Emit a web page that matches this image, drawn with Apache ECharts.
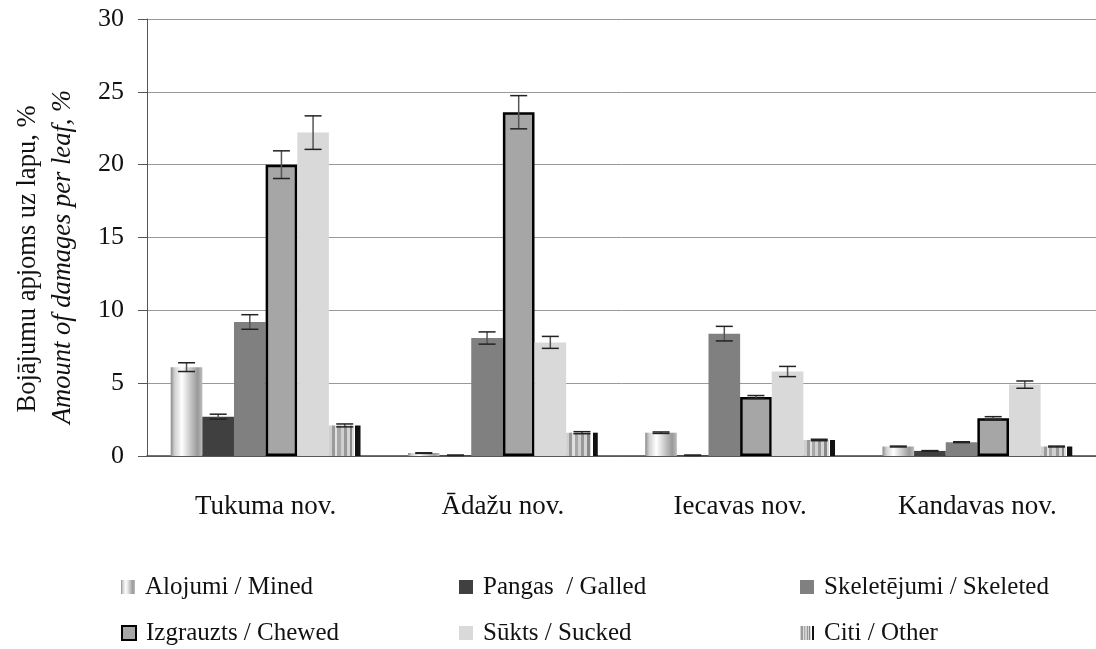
<!DOCTYPE html>
<html>
<head>
<meta charset="utf-8">
<script src="https://cdn.jsdelivr.net/npm/echarts@6/dist/echarts.min.js"></script>
<style>html,body{margin:0;padding:0;background:#fff}#c{width:1096px;height:649px}</style>
</head>
<body>
<div id="c"></div>
<script>
const categories = ['Tukuma nov.', 'Ādažu nov.', 'Iecavas nov.', 'Kandavas nov.'];
const seriesNames = ['Alojumi / Mined', 'Pangas  / Galled', 'Skeletējumi / Skeleted', 'Izgrauzts / Chewed', 'Sūkts / Sucked', 'Citi / Other'];
const alojumi = [6.1, 0.2, 1.6, 0.65];
const pangas = [2.7, 0.05, 0.05, 0.35];
const skeletejumi = [9.2, 8.1, 8.4, 0.95];
const izgrauzts = [20.0, 23.6, 4.05, 2.6];
const sukts = [22.2, 7.8, 5.8, 4.9];
const citi = [2.1, 1.6, 1.1, 0.65];
const errAlojumi = [0.3, 0.02, 0.05, 0.03];
const errPangas = [0.17, 0.01, 0.01, 0.02];
const errSkeletejumi = [0.5, 0.42, 0.5, 0.03];
const errIzgrauzts = [0.95, 1.14, 0.1, 0.1];
const errSukts = [1.15, 0.41, 0.35, 0.25];
const errCiti = [0.1, 0.07, 0.05, 0.03];
const yTicks = [0, 5, 10, 15, 20, 25, 30];

const values = [alojumi, pangas, skeletejumi, izgrauzts, sukts, citi];
const errors = [errAlojumi, errPangas, errSkeletejumi, errIzgrauzts, errSukts, errCiti];

const FONT = 'Liberation Serif';

function stops(list) {
  const out = [];
  list.forEach(s => { out.push({offset: s[0], color: s[2]}); out.push({offset: s[1], color: s[2]}); });
  return out;
}
const alojumiFill = {
  type: 'linear', x: 0, y: 0, x2: 1, y2: 0,
  colorStops: [
    {offset: 0, color: '#8a8a8a'}, {offset: 0.12, color: '#cfcfcf'},
    {offset: 0.35, color: '#ffffff'}, {offset: 0.6, color: '#cccccc'},
    {offset: 0.85, color: '#999999'}, {offset: 1, color: '#bdbdbd'}
  ]
};
const citiFill = {
  type: 'linear', x: 0, y: 0, x2: 1, y2: 0,
  colorStops: stops([
    [0, 0.1, '#cfcfcf'], [0.1, 0.2, '#9a9a9a'], [0.2, 0.27, '#e0e0e0'],
    [0.27, 0.37, '#a8a8a8'], [0.37, 0.47, '#d0d0d0'], [0.47, 0.57, '#999999'],
    [0.57, 0.66, '#d4d4d4'], [0.66, 0.74, '#888888'], [0.74, 0.8, '#dcdcdc'],
    [0.8, 0.84, '#ffffff'], [0.84, 1, '#111111']
  ])
};
const styles = [
  {color: alojumiFill},
  {color: '#404040'},
  {color: '#808080'},
  {color: '#a6a6a6', borderColor: '#000', borderWidth: 2.5},
  {color: '#d9d9d9'},
  {color: citiFill}
];

const barSeries = seriesNames.map((n, i) => ({
  name: n, type: 'bar', data: values[i],
  barGap: '0%', barCategoryGap: '20%',
  itemStyle: styles[i],
  emphasis: {disabled: true},
  z: 2
}));

const errData = [];
errors.forEach((arr, s) => arr.forEach((e, c) => errData.push([c, values[s][c], e, s])));

const errSeries = {
  type: 'custom', name: 'err', data: errData, z: 5, silent: true,
  renderItem: function (params, api) {
    const c = api.value(0), v = api.value(1), e = api.value(2), s = api.value(3);
    const band = api.size([1, 0])[0];
    const bw = band * 0.8 / 6;
    const x = api.coord([c, v])[0] + (s - 2.5) * bw;
    const yt = api.coord([c, v + e])[1];
    const yb = api.coord([c, v - e])[1];
    const hw = 8.5;
    return {
      type: 'group',
      children: [
        {type: 'line', shape: {x1: x, y1: yt, x2: x, y2: yb}, style: {stroke: '#555', lineWidth: 1.5}},
        {type: 'line', shape: {x1: x - hw, y1: yt, x2: x + hw, y2: yt}, style: {stroke: '#222', lineWidth: 1.5}},
        {type: 'line', shape: {x1: x - hw, y1: yb, x2: x + hw, y2: yb}, style: {stroke: '#222', lineWidth: 1.5}}
      ]
    };
  }
};

const legendPos = [[121, 574], [459, 574], [800, 574], [121, 620], [459, 620], [800, 620]];
const legends = seriesNames.map((n, i) => ({
  left: legendPos[i][0], top: legendPos[i][1], padding: 0,
  itemWidth: 14, itemHeight: 14, itemGap: 10,
  selectedMode: false,
  data: [{name: n, icon: 'rect', itemStyle: i === 3 ? {borderColor: '#000', borderWidth: 2} : {borderWidth: 0}}],
  textStyle: {fontFamily: FONT, fontSize: 25, color: '#111', lineHeight: 26, padding: [0, 0, 0, 5]}
}));

const chart = echarts.init(document.getElementById('c'), null, {renderer: 'canvas'});
chart.setOption({
  backgroundColor: '#fff',
  animation: false,
  grid: {left: 147, top: 19, width: 953, height: 437, containLabel: false},
  legend: legends,
  xAxis: {
    type: 'category', data: categories,
    axisLine: {lineStyle: {color: '#444', width: 1.5}},
    axisTick: {show: false},
    axisLabel: {fontFamily: FONT, fontSize: 27, color: '#111', margin: 37}
  },
  yAxis: {
    type: 'value', min: yTicks[0], max: yTicks[yTicks.length - 1], interval: 5,
    axisLine: {show: true, lineStyle: {color: '#555', width: 1}},
    axisTick: {show: true, length: 9, lineStyle: {color: '#555'}},
    axisLabel: {fontFamily: FONT, fontSize: 26, color: '#111', margin: 23},
    splitLine: {lineStyle: {color: '#999', width: 1}}
  },
  graphic: [
    {type: 'text', x: 28, y: 259, rotation: Math.PI / 2,
     style: {text: 'Bojājumu apjoms uz lapu, %', fontFamily: FONT, fontSize: 26.5, fill: '#111', align: 'center', verticalAlign: 'middle'}},
    {type: 'text', x: 63, y: 257, rotation: Math.PI / 2,
     style: {text: 'Amount of damages per leaf, %', fontFamily: FONT, fontSize: 26.5, fontStyle: 'italic', fill: '#111', align: 'center', verticalAlign: 'middle'}}
  ],
  series: barSeries.concat([errSeries])
});
</script>
</body>
</html>
